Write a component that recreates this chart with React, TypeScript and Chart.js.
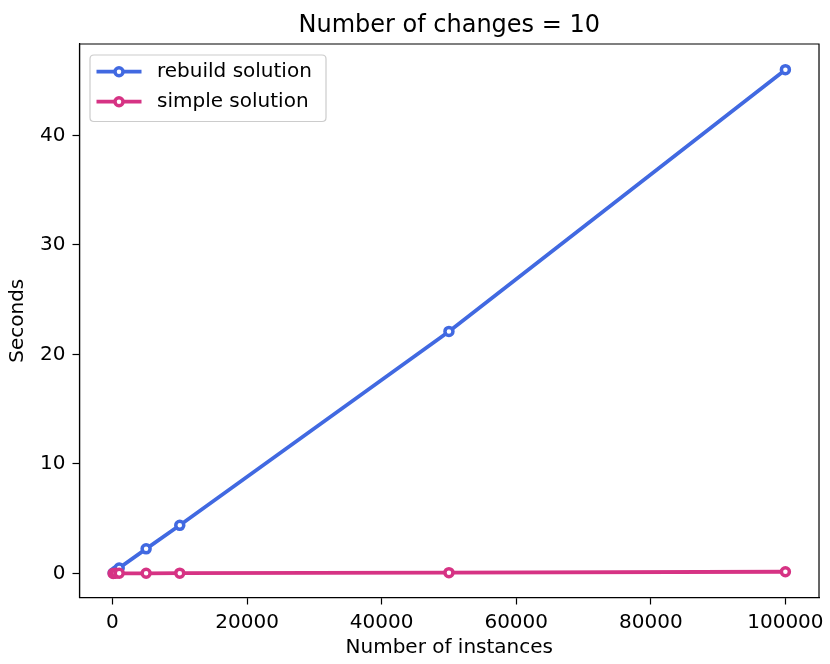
import React, { useEffect, useRef } from "react";
import { Chart, registerables } from "chart.js";

Chart.register(...registerables);

// Benchmark timings: seconds per run versus number of instances
const instances = [100, 500, 1000, 5000, 10000, 50000, 100000];
const rebuildSeconds = [0.05, 0.23, 0.5, 2.25, 4.4, 22.1, 46.0];
const simpleSeconds = [0.01, 0.02, 0.02, 0.02, 0.03, 0.08, 0.16];

const xTicks = [0, 20000, 40000, 60000, 80000, 100000];
const yTicks = [0, 10, 20, 30, 40];

const seriesNames = ["rebuild solution", "simple solution"];
const seriesColors = ["#4169e1", "#d63384"];

const chartTitle = "Number of changes = 10";
const xLabel = "Number of instances";
const yLabel = "Seconds";

const FONT = "'DejaVu Sans', 'Liberation Sans', sans-serif";

// Axes frame on all four sides (top and right spines)
const framePlugin = {
  id: "frame",
  afterDraw(chart: any) {
    const { ctx, chartArea: a } = chart;
    ctx.save();
    ctx.strokeStyle = "#000";
    ctx.lineWidth = 1.2;
    ctx.beginPath();
    ctx.rect(a.left, a.top, a.right - a.left, a.bottom - a.top);
    ctx.stroke();
    ctx.restore();
  },
};

// Title above the plot area
const titlePlugin = {
  id: "plotTitle",
  afterDraw(chart: any) {
    const { ctx, chartArea: a } = chart;
    ctx.save();
    ctx.fillStyle = "#000";
    ctx.font = `24px ${FONT}`;
    ctx.textAlign = "center";
    ctx.textBaseline = "alphabetic";
    ctx.fillText(chartTitle, (a.left + a.right) / 2, 32);
    ctx.restore();
  },
};

// Boxed legend with line + hollow marker swatches
const legendPlugin = {
  id: "boxLegend",
  afterDraw(chart: any) {
    const { ctx, chartArea: a } = chart;
    const x0 = a.left + 10.5;
    const y0 = a.top + 11;
    const w = 236;
    const h = 66.5;
    ctx.save();
    ctx.beginPath();
    const r = 4;
    ctx.moveTo(x0 + r, y0);
    ctx.lineTo(x0 + w - r, y0);
    ctx.quadraticCurveTo(x0 + w, y0, x0 + w, y0 + r);
    ctx.lineTo(x0 + w, y0 + h - r);
    ctx.quadraticCurveTo(x0 + w, y0 + h, x0 + w - r, y0 + h);
    ctx.lineTo(x0 + r, y0 + h);
    ctx.quadraticCurveTo(x0, y0 + h, x0, y0 + h - r);
    ctx.lineTo(x0, y0 + r);
    ctx.quadraticCurveTo(x0, y0, x0 + r, y0);
    ctx.closePath();
    ctx.fillStyle = "rgba(255,255,255,0.8)";
    ctx.fill();
    ctx.strokeStyle = "#cccccc";
    ctx.lineWidth = 1.2;
    ctx.stroke();

    chart.data.datasets.forEach((ds: any, i: number) => {
      const cy = y0 + 16.7 + i * 30;
      ctx.strokeStyle = ds.borderColor;
      ctx.lineWidth = 3.8;
      ctx.beginPath();
      ctx.moveTo(x0 + 6.5, cy);
      ctx.lineTo(x0 + 51.5, cy);
      ctx.stroke();
      ctx.beginPath();
      ctx.arc(x0 + 29, cy, 4, 0, Math.PI * 2);
      ctx.fillStyle = "#fff";
      ctx.fill();
      ctx.lineWidth = 3.5;
      ctx.stroke();
      ctx.fillStyle = "#000";
      ctx.font = `20px ${FONT}`;
      ctx.textAlign = "left";
      ctx.textBaseline = "middle";
      ctx.fillText(ds.label, x0 + 67, cy + 0.5);
    });
    ctx.restore();
  },
};

export default function App() {
  const canvasRef = useRef<HTMLCanvasElement | null>(null);

  useEffect(() => {
    document.body.style.margin = "0";
    const canvas = canvasRef.current;
    if (!canvas) return;

    const makeData = (ys: number[]) => instances.map((x, i) => ({ x, y: ys[i] }));

    const chart = new Chart(canvas, {
      type: "line",
      data: {
        datasets: [rebuildSeconds, simpleSeconds].map((ys, i) => ({
          label: seriesNames[i],
          data: makeData(ys),
          borderColor: seriesColors[i],
          backgroundColor: "#ffffff",
          pointBorderColor: seriesColors[i],
          pointBackgroundColor: "#ffffff",
          borderWidth: 3.8,
          pointRadius: 4,
          pointBorderWidth: 3.5,
          pointHoverRadius: 4,
          tension: 0,
          fill: false,
          order: i === 0 ? 1 : 0,
        })),
      },
      options: {
        responsive: false,
        animation: false,
        events: [],
        layout: { padding: { top: 44, right: 9.5, left: 0, bottom: 0 } },
        plugins: {
          legend: { display: false },
          title: { display: false },
          tooltip: { enabled: false },
        },
        scales: {
          x: {
            type: "linear",
            min: -4900,
            max: 104995,
            afterFit: (s: any) => {
              s.height = 66.5;
            },
            afterBuildTicks: (s: any) => {
              s.ticks = xTicks.map((v) => ({ value: v }));
            },
            grid: {
              drawOnChartArea: false,
              drawTicks: true,
              tickLength: 7,
              tickColor: "#000",
              tickWidth: 1.2,
            },
            border: { display: true, color: "#000", width: 1.2 },
            ticks: {
              color: "#000",
              font: { family: FONT, size: 20 },
              padding: 6,
              maxRotation: 0,
              autoSkip: false,
              callback: (v: any) => String(v),
            },
            title: {
              display: true,
              text: xLabel,
              color: "#000",
              font: { family: FONT, size: 20 },
              padding: { top: 0, bottom: 4 },
            },
          },
          y: {
            type: "linear",
            min: -2.19,
            max: 48.34,
            afterFit: (s: any) => {
              s.width = 79.5;
            },
            afterBuildTicks: (s: any) => {
              s.ticks = yTicks.map((v) => ({ value: v }));
            },
            grid: {
              drawOnChartArea: false,
              drawTicks: true,
              tickLength: 7,
              tickColor: "#000",
              tickWidth: 1.2,
            },
            border: { display: true, color: "#000", width: 1.2 },
            ticks: {
              color: "#000",
              font: { family: FONT, size: 20 },
              padding: 7,
              autoSkip: false,
              callback: (v: any) => String(v),
            },
            title: {
              display: true,
              text: yLabel,
              color: "#000",
              font: { family: FONT, size: 20 },
              padding: { top: 6, bottom: 0 },
            },
          },
        },
      },
      plugins: [framePlugin, titlePlugin, legendPlugin],
    } as any);

    return () => chart.destroy();
  }, []);

  return (
    <div style={{ position: "fixed", left: 0, top: 0, width: 830, height: 664, background: "#fff" }}>
      <canvas ref={canvasRef} width={830} height={664} style={{ display: "block" }} />
    </div>
  );
}
